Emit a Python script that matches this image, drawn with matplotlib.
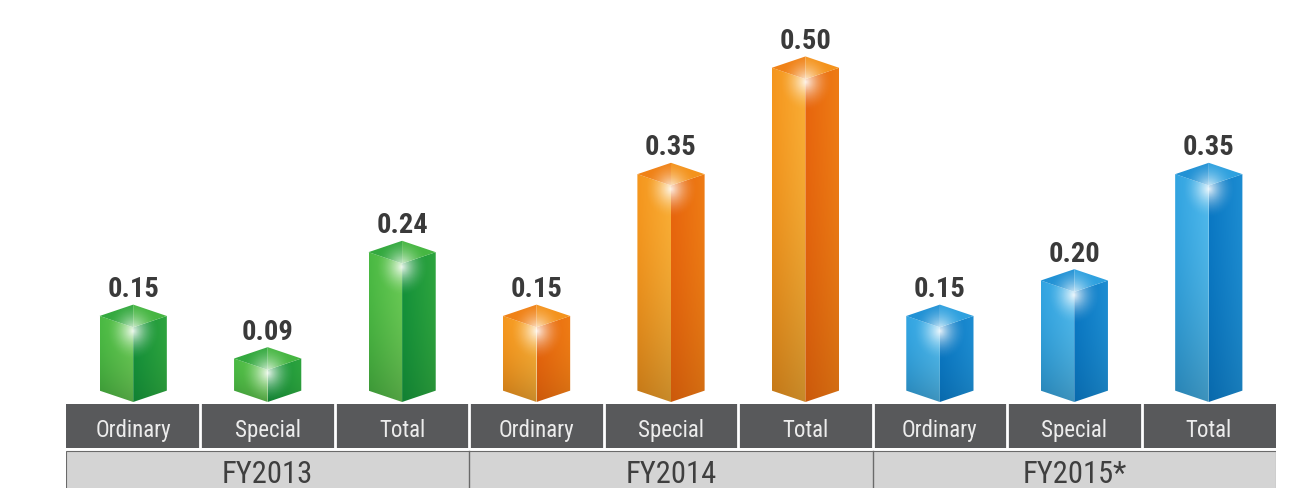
import numpy as np
import matplotlib.pyplot as plt
from matplotlib.patches import Polygon, Rectangle
from matplotlib.colors import to_rgb

years = ["FY2013", "FY2014", "FY2015*"]
kinds = ["Ordinary", "Special", "Total"]
values = [[0.15, 0.09, 0.24],
          [0.15, 0.35, 0.50],
          [0.15, 0.20, 0.35]]
light_cols = ["#5cc646", "#f9a623", "#3fb2ea"]
dark_cols = ["#14923a", "#e8650d", "#0a78c4"]

FONT = ["Roboto Condensed", "Archivo Narrow", "DejaVu Sans"]

fig = plt.figure(figsize=(13.09, 4.89), dpi=100)
ax = fig.add_axes([66 / 1309, 0, 1210 / 1309, 1])
ax.set_xlim(0, 9)
ax.set_ylim(-0.1086, 0.581)
ax.axis("off")


def mix(c1, c2, t):
    a, b = np.array(to_rgb(c1)), np.array(to_rgb(c2))
    return a * (1 - t) + b * t


def grad_fill(xy, c_left, c_right, shade=0.25, z=2):
    xy = np.array(xy)
    x0, x1 = xy[:, 0].min(), xy[:, 0].max()
    y0, y1 = xy[:, 1].min(), xy[:, 1].max()
    tx = np.linspace(0, 1, 40)
    ty = np.linspace(0, 1, 60)[:, None, None]
    row = np.array([mix(c_left, c_right, t) for t in tx])[None, :, :]
    img = row * (1 - shade * (1 - ty) ** 2)
    poly = Polygon(xy, closed=True, facecolor="none", edgecolor="none")
    ax.add_patch(poly)
    im = ax.imshow(img, extent=(x0, x1, y0, y1), origin="lower",
                   aspect="auto", interpolation="bilinear", zorder=z)
    im.set_clip_path(poly)


hw = 0.25      # half bar width (x units)
d = 0.016      # depth of top / bottom facets
floor = 0.0127  # bars stand on the top edge of the table
for g in range(3):
    lc, dc = light_cols[g], dark_cols[g]
    for k in range(3):
        v = values[g][k]
        xc = g * 3 + k + 0.5
        b = floor
        left = [(xc - hw, b + d), (xc, b), (xc, v - 2 * d), (xc - hw, v - d)]
        right = [(xc, b), (xc + hw, b + d), (xc + hw, v - d), (xc, v - 2 * d)]
        cap_l = [(xc - hw, v - d), (xc, v), (xc, v - 2 * d)]
        cap_r = [(xc, v), (xc + hw, v - d), (xc, v - 2 * d)]
        grad_fill(left, mix(lc, dc, 0.25), mix(lc, "white", 0.08), 0.2)
        grad_fill(right, dc, mix(dc, lc, 0.35), 0.12)
        ax.add_patch(Polygon(cap_l, closed=True, facecolor=mix(lc, dc, 0.55),
                             edgecolor="none", zorder=3))
        ax.add_patch(Polygon(cap_r, closed=True, facecolor=mix(lc, dc, 0.3),
                             edgecolor="none", zorder=3))

        # soft white glow around the top ridge
        outline = Polygon([(xc - hw, b + d), (xc, b), (xc + hw, b + d),
                           (xc + hw, v - d), (xc, v), (xc - hw, v - d)],
                          closed=True, facecolor="none", edgecolor="none")
        ax.add_patch(outline)
        gx = np.linspace(-1, 1, 100)
        gy = np.linspace(-1, 1, 100)[:, None]
        r = np.sqrt(gx[None, :] ** 2 + gy ** 2)
        glow = np.zeros((100, 100, 4))
        glow[..., :3] = 1
        glow[..., 3] = np.clip(1 - r, 0, 1) ** 1.8 * 0.9
        rx, ry = 0.2, 0.042
        gy0 = v - 2.3 * d
        im = ax.imshow(glow, extent=(xc - rx, xc + rx, gy0 - ry, gy0 + ry),
                       origin="lower", aspect="auto", interpolation="bilinear",
                       zorder=4)
        im.set_clip_path(outline)

        ax.text(xc, v + 0.012, f"{v:.2f}", ha="center", va="baseline",
                fontsize=20.5, fontweight="bold", color="#3a3a3a", family=FONT)

# table under the bars
ax.add_patch(Rectangle((0, -0.0522), 9, 0.0621, facecolor="#58595b",
                       edgecolor="none", zorder=1))
ax.add_patch(Rectangle((0, -0.13), 9, 0.0736, facecolor="#d4d4d4",
                       edgecolor="#6a6a6a", linewidth=0.8, zorder=1))
for i in range(1, 9):
    ax.plot([i, i], [-0.0522, 0.0099], color="white", linewidth=2, zorder=2)
for i in (3, 6):
    ax.plot([i, i], [-0.13, -0.0564], color="#6a6a6a", linewidth=1, zorder=2)

for g in range(3):
    for k in range(3):
        ax.text(g * 3 + k + 0.5, -0.0353, kinds[k], ha="center", va="baseline",
                fontsize=16.5, color="#ececec", family=FONT)
    ax.text(g * 3 + 1.5, -0.1001, years[g], ha="center", va="baseline",
            fontsize=22, color="#3f3f3f", family=FONT)

fig.savefig("out.png", dpi=100)
